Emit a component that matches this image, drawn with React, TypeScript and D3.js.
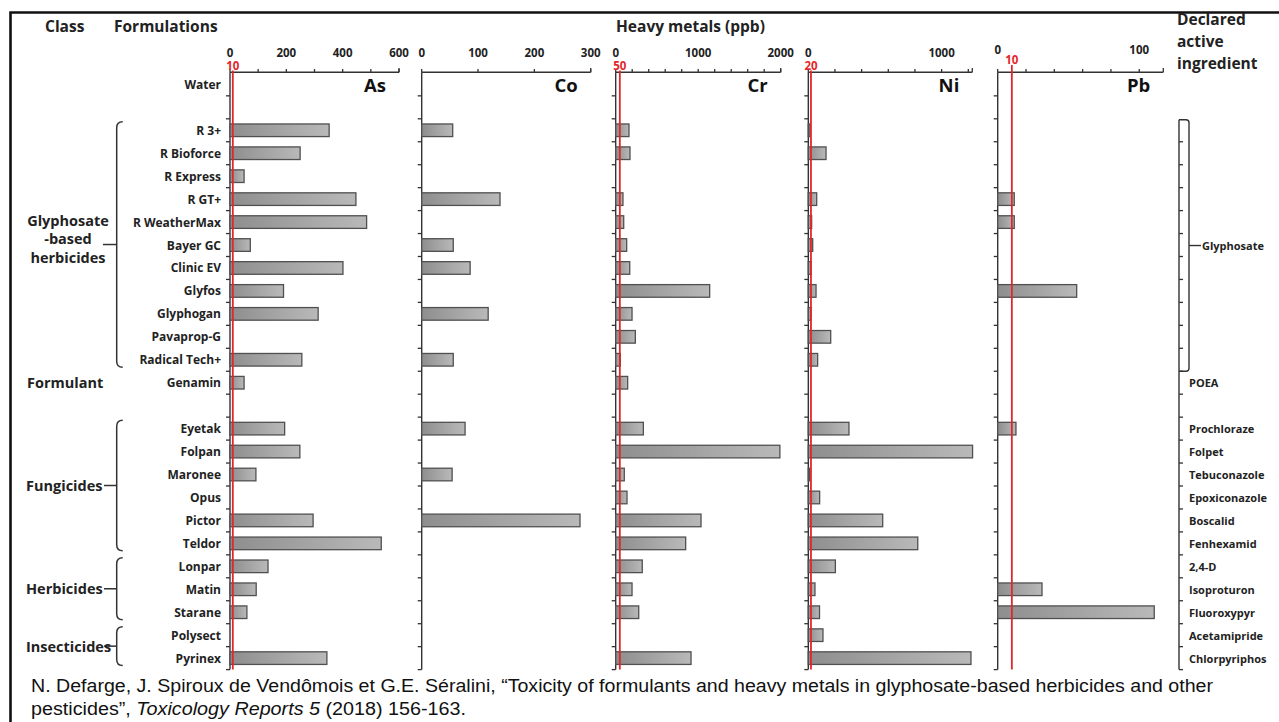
import React from 'react';
import * as d3 from 'd3';

const width = 1279;
const height = 722;
const font = "'Open Sans', Lato, sans-serif";
const red = '#e3262b';

// formulations, top to bottom ('' = empty row)
const rows = [
  'Water', '', 'R 3+', 'R Bioforce', 'R Express', 'R GT+', 'R WeatherMax', 'Bayer GC',
  'Clinic EV', 'Glyfos', 'Glyphogan', 'Pavaprop-G', 'Radical Tech+', 'Genamin', '',
  'Eyetak', 'Folpan', 'Maronee', 'Opus', 'Pictor', 'Teldor', 'Lonpar', 'Matin',
  'Starane', 'Polysect', 'Pyrinex',
];

const ingredients = [
  '', '', '', '', '', '', '', '', '', '', '', '', '', 'POEA', '',
  'Prochloraze', 'Folpet', 'Tebuconazole', 'Epoxiconazole', 'Boscalid', 'Fenhexamid',
  '2,4-D', 'Isoproturon', 'Fluoroxypyr', 'Acetamipride', 'Chlorpyriphos',
];

// heavy metals, ppb
const asValues = [0, 0, 352, 249, 50, 447, 485, 72, 401, 190, 313, 0, 255, 50, 0, 194, 248, 92, 0, 295, 537, 135, 93, 60, 0, 344];
const coValues = [0, 0, 55, 0, 0, 139, 0, 56, 86, 0, 118, 0, 56, 0, 0, 77, 0, 54, 0, 281, 0, 0, 0, 0, 0, 0];
const crValues = [0, 0, 161, 173, 0, 88, 97, 133, 170, 1139, 198, 238, 56, 145, 0, 335, 1990, 104, 137, 1034, 848, 322, 198, 279, 0, 913];
const niValues = [0, 0, 12, 133, 0, 63, 25, 33, 20, 58, 20, 168, 70, 0, 0, 305, 1232, 10, 85, 558, 821, 203, 50, 84, 110, 1220];
const pbValues = [0, 0, 0, 0, 0, 11.7, 11.7, 0, 0, 55.8, 0, 0, 0, 0, 0, 12.9, 0, 0, 0, 0, 0, 0, 31.3, 110.6, 0, 0];

const asTickLabels = [0, 200, 400, 600];
const coTickLabels = [0, 100, 200, 300];
const crTickLabels = [0, 1000, 2000];
const niTickLabels = [0, 1000];
const pbTickLabels = [0, 100];

const panels = [
  { metal: 'As', values: asValues, labels: asTickLabels, max: 600, step: 100, limit: 10, x0: 230, w: 169, labelY: 56.5, limitY: 69.5 },
  { metal: 'Co', values: coValues, labels: coTickLabels, max: 300, step: 100, limit: null, x0: 421.7, w: 169, labelY: 56.5, limitY: 69.5 },
  { metal: 'Cr', values: crValues, labels: crTickLabels, max: 2000, step: 200, limit: 50, x0: 615.7, w: 165, labelY: 56.5, limitY: 69.5 },
  { metal: 'Ni', values: niValues, labels: niTickLabels, max: 1230, step: 200, limit: 20, x0: 808.3, w: 164, labelY: 56.5, limitY: 69.5 },
  { metal: 'Pb', values: pbValues, labels: pbTickLabels, max: 117, step: 20, limit: 10, x0: 997.7, w: 165.6, labelY: 53.5, limitY: 64 },
];

const groups = [
  { lines: ['Glyphosate', '-based', 'herbicides'], first: 2, last: 12 },
  { lines: ['Fungicides'], first: 15, last: 20 },
  { lines: ['Herbicides'], first: 21, last: 23 },
  { lines: ['Insecticides'], first: 24, last: 25 },
];

const top = 72.9;
const step = 22.95;
const y = d3.scaleBand<number>()
  .domain(d3.range(rows.length))
  .range([top, top + step * rows.length])
  .paddingInner(0.45)
  .paddingOuter(0.225);
const bottom = top + step * rows.length;
const boundary = (k: number) => top + k * step;
const mid = (i: number) => (y(i) as number) + y.bandwidth() / 2;

const bracketX = 116.7;
const rightAxisX = 1179;
const rightBracketX = 1189;

const Panel = ({ p }) => {
  const x = d3.scaleLinear().domain([0, p.max]).range([p.x0, p.x0 + p.w]);
  const ticks = d3.range(0, p.max + 0.001, p.step);
  return (
    <g>
      {/* top axis */}
      <line x1={p.x0} x2={p.x0 + p.w} y1={72.3} y2={72.3} stroke="#333" strokeWidth={1.4} />
      {ticks.map(t => (
        <line key={t} x1={x(t)} x2={x(t)} y1={69} y2={72.3} stroke="#333" strokeWidth={1.3} />
      ))}
      <line x1={p.x0 + p.w} x2={p.x0 + p.w} y1={68} y2={72.3} stroke="#333" strokeWidth={1.3} />
      {p.labels.map(t => (
        <text key={t} x={x(t)} y={p.labelY} textAnchor="middle" fontSize={11.5} fontWeight="bold" fill="#222">{t}</text>
      ))}
      <text x={p.x0 + p.w - 13} y={92} textAnchor="end" fontSize={18.5} fontWeight="bold" fill="#111">{p.metal}</text>
      {/* vertical axis */}
      <line x1={p.x0} x2={p.x0} y1={72.3} y2={bottom} stroke="#333" strokeWidth={1.4} />
      {d3.range(1, rows.length + 1).map(k => (
        <line key={k} x1={p.x0 - 4} x2={p.x0} y1={boundary(k)} y2={boundary(k)} stroke="#333" strokeWidth={1.3} />
      ))}
      {p.values.map((v, i) => v > 0 && (
        <rect key={i} x={p.x0} y={y(i)} width={x(v) - p.x0} height={y.bandwidth()}
          fill="url(#barGrad)" stroke="#505050" strokeWidth={1.3} />
      ))}
      {p.limit != null && (
        <g>
          <line x1={x(p.limit)} x2={x(p.limit)} y1={p.limitY + 1} y2={bottom} stroke={red} strokeWidth={1.8} />
          <text x={x(p.limit)} y={p.limitY} textAnchor="middle" fontSize={11.5} fontWeight="bold" fill={red}>{p.limit}</text>
        </g>
      )}
    </g>
  );
};

const Bracket = ({ g }) => {
  const y0 = boundary(g.first) + 3;
  const y1 = boundary(g.last + 1) - 4;
  const m = (y0 + y1) / 2;
  const bx = bracketX;
  const multi = g.lines.length > 1;
  return (
    <g>
      <path d={`M${bx + 6},${y0} Q${bx},${y0} ${bx},${y0 + 6} L${bx},${y1 - 6} Q${bx},${y1} ${bx + 6},${y1}`}
        fill="none" stroke="#333" strokeWidth={1.5} />
      <line x1={multi ? 103 : 104} x2={bx} y1={m} y2={m} stroke="#333" strokeWidth={1.5} />
      {g.lines.map((l, i) => (
        <text key={l} x={multi ? 68 : 26} y={multi ? m + (i - 1) * 18.5 - 6 : m}
          textAnchor={multi ? 'middle' : 'start'} dominantBaseline="central"
          fontSize={14.5} fontWeight="bold" fill="#222">{l}</text>
      ))}
    </g>
  );
};

export default function App() {
  const gTop = boundary(2) + 1;
  const gBot = boundary(13);
  const gMid = (gTop + gBot) / 2;
  const citeFont = "'Liberation Sans', Arial, sans-serif";
  return (
    <svg width={width} height={height} style={{ position: 'absolute', left: 0, top: 0, background: '#fff' }}
      fontFamily={font}>
      <defs>
        <linearGradient id="barGrad" x1="0" x2="1" y1="0" y2="0">
          <stop offset="0" stopColor="#8e8e8e" />
          <stop offset="1" stopColor="#b9b9b9" />
        </linearGradient>
      </defs>
      <rect x={0} y={0} width={width} height={height} fill="#fff" />
      <path d={`M10.5,${height + 5} L10.5,12.5 L${width + 5},12.5`} fill="none" stroke="#111" strokeWidth={2.6} />

      {/* headers */}
      <text x={45} y={32} fontSize={15.5} fontWeight="bold" fill="#222">Class</text>
      <text x={114} y={32} fontSize={15.5} fontWeight="bold" fill="#222">Formulations</text>
      <text x={616} y={32} fontSize={15.5} fontWeight="bold" fill="#222">Heavy metals (ppb)</text>
      <text x={1177} y={25} fontSize={15.5} fontWeight="bold" fill="#222">Declared</text>
      <text x={1177} y={47} fontSize={15.5} fontWeight="bold" fill="#222">active</text>
      <text x={1177} y={69} fontSize={15.5} fontWeight="bold" fill="#222">ingredient</text>

      {/* row labels */}
      {rows.map((r, i) => r && (
        <text key={i} x={221} y={mid(i)} textAnchor="end" dominantBaseline="central"
          fontSize={12} fontWeight="bold" fill="#222">{r}</text>
      ))}

      {groups.map(g => <Bracket key={g.lines[0]} g={g} />)}
      <text x={27} y={mid(13)} dominantBaseline="central" fontSize={14.5} fontWeight="bold" fill="#222">Formulant</text>

      {panels.map(p => <Panel key={p.metal} p={p} />)}

      {/* declared active ingredient column */}
      <line x1={rightAxisX} x2={rightAxisX} y1={gTop} y2={bottom} stroke="#333" strokeWidth={1.4} />
      {d3.range(3, rows.length + 1).map(k => (
        <line key={k} x1={rightAxisX} x2={rightAxisX + 4} y1={boundary(k)} y2={boundary(k)} stroke="#333" strokeWidth={1.3} />
      ))}
      <path d={`M${rightAxisX},${gTop} L${rightBracketX - 3},${gTop} Q${rightBracketX},${gTop} ${rightBracketX},${gTop + 3} L${rightBracketX},${gBot - 3} Q${rightBracketX},${gBot} ${rightBracketX - 3},${gBot} L${rightAxisX},${gBot}`}
        fill="none" stroke="#333" strokeWidth={1.4} />
      <line x1={rightBracketX} x2={rightBracketX + 12} y1={gMid} y2={gMid} stroke="#333" strokeWidth={1.4} />
      <text x={1202} y={gMid} dominantBaseline="central" fontSize={11} fontWeight="bold" fill="#222">Glyphosate</text>
      {ingredients.map((s, i) => s && (
        <text key={i} x={1189} y={mid(i)} dominantBaseline="central" fontSize={11} fontWeight="bold" fill="#222">{s}</text>
      ))}

      {/* citation */}
      <text x={31} y={691.5} fontFamily={citeFont} fontSize={17.5} fill="#111" textLength={1182} lengthAdjust="spacingAndGlyphs">
        N. Defarge, J. Spiroux de Vendômois et G.E. Séralini, “Toxicity of formulants and heavy metals in glyphosate-based herbicides and other
      </text>
      <text x={31} y={715} fontFamily={citeFont} fontSize={17.5} fill="#111" textLength={435} lengthAdjust="spacingAndGlyphs">
        pesticides”, <tspan fontStyle="italic">Toxicology Reports 5</tspan> (2018) 156-163.
      </text>
    </svg>
  );
}
